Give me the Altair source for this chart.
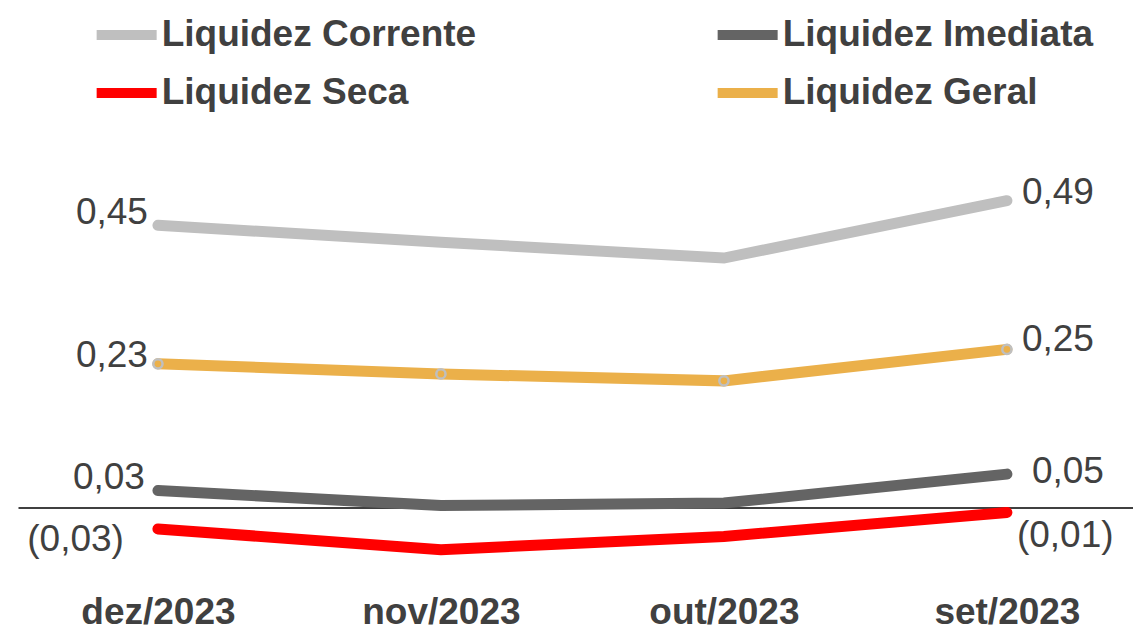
import altair as alt
import pandas as pd

months = ["dez/2023", "nov/2023", "out/2023", "set/2023"]
# legend grid fills column by column: Corrente, Seca | Imediata, Geral
series = ["Liquidez Corrente", "Liquidez Seca", "Liquidez Imediata", "Liquidez Geral"]
corrente = [0.448, 0.421, 0.396, 0.487]
seca = [-0.034, -0.067, -0.046, -0.008]
imediata = [0.027, 0.003, 0.007, 0.053]
geral = [0.228, 0.212, 0.201, 0.251]
colors = ["#BFBFBF", "#FF0000", "#646464", "#EBB04A"]

rows = []
for s, vals in zip(series, [corrente, seca, imediata, geral]):
    for m, v in zip(months, vals):
        rows.append({"serie": s, "mes": m, "valor": v})
df = pd.DataFrame(rows)

FONT = "Liberation Sans"
TXT = "#404040"

PAD_L = 10
PLOT_W = 1115
PLOT_H = 555
PX_PER_UNIT = 630

y_hi = 494.5 / PX_PER_UNIT
y_lo = y_hi - PLOT_H / PX_PER_UNIT

x_scale = alt.Scale(type="point", padding=0.47, align=0.526)

bottom_axis = alt.Axis(
    title=None, labelFont=FONT, labelFontSize=37, labelFontWeight="bold",
    labelColor=TXT, labelPadding=26, domain=False, ticks=False, grid=False,
    labelAngle=0,
)
# zero line: a top axis domain pushed down to y = 0
zero_axis = alt.Axis(
    orient="top", offset=-(y_hi * PX_PER_UNIT), title=None, labels=False,
    ticks=False, grid=False, domain=True, domainColor="black", domainWidth=1.5,
)

def xe(axis):
    return alt.X("mes:N", sort=months, scale=x_scale, axis=axis)

y_enc = alt.Y(
    "valor:Q",
    scale=alt.Scale(domain=[y_lo, y_hi], nice=False, zero=False),
    axis=None,
)

base = alt.Chart(df)

lines = base.mark_line(strokeWidth=11, strokeCap="round").encode(
    x=xe(bottom_axis),
    y=y_enc,
    color=alt.Color(
        "serie:N",
        scale=alt.Scale(domain=series, range=colors),
        legend=alt.Legend(
            orient="none", legendX=73.65, legendY=-13, columns=2, title=None,
            symbolType="stroke", symbolStrokeWidth=10, symbolSize=3600,
            labelFontSize=37, labelFont=FONT, labelFontWeight="bold",
            labelColor=TXT, columnPadding=221, rowPadding=3, labelOffset=0,
            labelLimit=0,
        ),
    ),
)

points = base.transform_filter(alt.datum.serie == "Liquidez Geral").mark_point(
    shape="circle", filled=False, size=85, strokeWidth=2.5, color="#BFBFBF", opacity=1
).encode(x=xe(zero_axis), y=y_enc)

label_style = {
    ("Liquidez Corrente", 0): (-10, -12),
    ("Liquidez Corrente", 3): (15, -8),
    ("Liquidez Geral", 0): (-10, -8),
    ("Liquidez Geral", 3): (15, -9),
    ("Liquidez Imediata", 0): (-13, -12),
    ("Liquidez Imediata", 3): (25, -2),
    ("Liquidez Seca", 0): (-34, 11),
    ("Liquidez Seca", 3): (10, 23),
}

label_layers = []
for (s, idx), (dx, dy) in label_style.items():
    m = months[idx]
    lyr = base.transform_filter(
        (alt.datum.serie == s) & (alt.datum.mes == m)
    ).transform_calculate(
        rotulo="datum.valor < 0 ? '(' + replace(format(abs(datum.valor), '.2f'), '.', ',') + ')' : replace(format(datum.valor, '.2f'), '.', ',')"
    ).mark_text(
        align="right" if idx == 0 else "left", baseline="middle",
        dx=dx, dy=dy, font=FONT, fontSize=37, color=TXT,
    ).encode(x=xe(None), y=y_enc, text="rotulo:N")
    label_layers.append(lyr)

chart = alt.layer(lines, points, *label_layers).resolve_axis(
    x="independent"
).properties(
    width=PLOT_W,
    height=PLOT_H,
    autosize=alt.AutoSizeParams(type="none"),
    padding={"left": PAD_L, "top": 5, "right": 0, "bottom": 63},
).configure_view(stroke=None)

chart.save("out.html", embed_options={"renderer": "svg", "actions": False})
